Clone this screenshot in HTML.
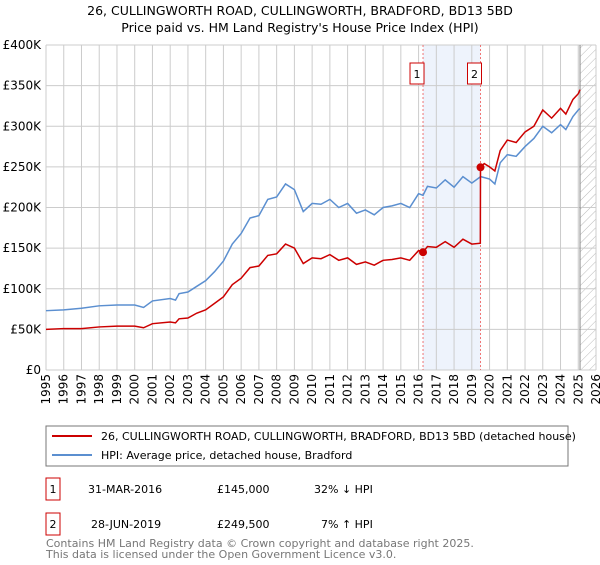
<!DOCTYPE html>
<html><head><meta charset="utf-8"><style>
body{margin:0;background:#fff;font-family:"Liberation Sans","DejaVu Sans",sans-serif;}
svg text{font-family:"DejaVu Sans","Liberation Sans",sans-serif;}
</style></head><body>
<svg width="600" height="560" xmlns="http://www.w3.org/2000/svg">
<text x="300" y="15" text-anchor="middle" font-size="12.5">26, CULLINGWORTH ROAD, CULLINGWORTH, BRADFORD, BD13 5BD</text>
<text x="300" y="32" text-anchor="middle" font-size="12.5">Price paid vs. HM Land Registry's House Price Index (HPI)</text>
<defs><pattern id="hatch" width="6" height="6" patternUnits="userSpaceOnUse" patternTransform="rotate(45)"><line x1="0" y1="0" x2="0" y2="6" stroke="#bbb" stroke-width="1"/></pattern></defs>
<g id="grid"></g><g id="marks"></g><g id="axes"></g>
<rect x="46" y="426" width="522" height="40" fill="#fff" stroke="#777"/>
<line x1="52" y1="436" x2="92" y2="436" stroke="#cc0000" stroke-width="2"/>
<text x="101" y="440" font-size="11">26, CULLINGWORTH ROAD, CULLINGWORTH, BRADFORD, BD13 5BD (detached house)</text>
<line x1="52" y1="455" x2="92" y2="455" stroke="#5b8fd0" stroke-width="2"/>
<text x="101" y="459" font-size="11">HPI: Average price, detached house, Bradford</text>
<g font-size="11">
<rect x="46" y="478" width="14" height="22" fill="#fff" stroke="#cc0000"/><text x="53" y="493" text-anchor="middle">1</text>
<text x="88" y="493">31-MAR-2016</text><text x="217" y="493">£145,000</text><text x="314" y="493">32% ↓ HPI</text>
<rect x="46" y="513" width="14" height="22" fill="#fff" stroke="#cc0000"/><text x="53" y="528" text-anchor="middle">2</text>
<text x="91" y="528">28-JUN-2019</text><text x="217" y="528">£249,500</text><text x="321" y="528">7% ↑ HPI</text>
</g>
<text x="46" y="547" font-size="11" fill="#777">Contains HM Land Registry data © Crown copyright and database right 2025.</text>
<text x="46" y="558" font-size="11" fill="#777">This data is licensed under the Open Government Licence v3.0.</text>
</svg>
<script>
const hpiYears=[1995,1996,1997,1998,1999,2000,2000.5,2001,2002,2002.3,2002.5,2003,2003.5,2004,2004.5,2005,2005.5,2006,2006.5,2007,2007.5,2008,2008.5,2009,2009.5,2010,2010.5,2011,2011.5,2012,2012.5,2013,2013.5,2014,2014.5,2015,2015.5,2016,2016.25,2016.5,2017,2017.5,2018,2018.5,2019,2019.5,2020,2020.3,2020.6,2021,2021.5,2022,2022.5,2023,2023.5,2024,2024.3,2024.7,2025,2025.1];
const hpiValues=[73,74,76,79,80,80,77,85,88,86,94,96,103,110,121,134,155,168,187,190,210,213,229,222,195,205,204,210,200,205,193,197,191,200,202,205,200,217,215,226,224,234,225,238,230,238,235,229,255,265,263,275,285,300,292,302,296,312,320,322];
const priceYears=[1995,1996,1997,1998,1999,2000,2000.5,2001,2002,2002.3,2002.5,2003,2003.5,2004,2004.5,2005,2005.5,2006,2006.5,2007,2007.5,2008,2008.5,2009,2009.5,2010,2010.5,2011,2011.5,2012,2012.5,2013,2013.5,2014,2014.5,2015,2015.5,2016,2016.25,2016.5,2017,2017.5,2018,2018.5,2019,2019.48,2019.49,2019.7,2020,2020.3,2020.6,2021,2021.5,2022,2022.5,2023,2023.5,2024,2024.3,2024.7,2025,2025.1];
const priceValues=[50,51,51,53,54,54,52,57,59,58,63,64,70,74,82,90,105,113,126,128,141,143,155,150,131,138,137,142,135,138,130,133,129,135,136,138,135,147,145,152,151,158,151,161,155,156,249.5,254,250,245,270,283,280,293,300,320,310,322,315,333,340,345];
const saleYears=[2016.25,2019.49];
const saleValues=[145,249.5];
const saleLabels=["1","2"];
const yTicks=[0,50,100,150,200,250,300,350,400];
const yTickLabels=["£0","£50K","£100K","£150K","£200K","£250K","£300K","£350K","£400K"];
const xTicks=[1995,1996,1997,1998,1999,2000,2001,2002,2003,2004,2005,2006,2007,2008,2009,2010,2011,2012,2013,2014,2015,2016,2017,2018,2019,2020,2021,2022,2023,2024,2025,2026];

const NS="http://www.w3.org/2000/svg";
const L=46,R=596,T=45,B=370;
const x=v=>L+(v-1995)/(2026-1995)*(R-L);
const y=v=>B-v/400*(B-T);
function mk(tag,attrs,parent){const e=document.createElementNS(NS,tag);for(const k in attrs)e.setAttribute(k,attrs[k]);document.getElementById(parent).appendChild(e);return e;}
const sh=mk('rect',{x:x(saleYears[0]),y:T,width:x(saleYears[1])-x(saleYears[0]),height:B-T,fill:'#eef3fc'},'grid');


const ht=mk('rect',{x:x(2025.1),y:T,width:R-x(2025.1),height:B-T,fill:'url(#hatch)'},'grid');


xTicks.forEach(t=>{const g=mk('line',{x1:x(t),x2:x(t),y1:T,y2:B,stroke:'#ccc'},'grid');


const lb=mk('text',{x:0,y:0,'text-anchor':'end','font-size':12,transform:'translate('+(x(t)+4)+','+(B+4)+') rotate(-90)'},'axes');lb.textContent=t;

});
yTicks.forEach((t,i)=>{const g=mk('line',{x1:L,x2:R,y1:y(t),y2:y(t),stroke:'#ccc'},'grid');


const lb=mk('text',{x:L-5,y:y(t)+4,'text-anchor':'end','font-size':12},'axes');lb.textContent=yTickLabels[i];

});
const vl=mk('line',{x1:x(2025.1),x2:x(2025.1),y1:T,y2:B,stroke:'#888'},'grid');


saleYears.forEach((s,i)=>{const d=mk('line',{x1:x(s),x2:x(s),y1:T,y2:B,stroke:'#e55','stroke-dasharray':'2,2','stroke-width':0.8},'grid');


const bx=mk('rect',{x:x(s)-13,y:63,width:14,height:21,fill:'#fff',stroke:'#cc0000'},'axes');


const tx=mk('text',{x:x(s)-6,y:78,'text-anchor':'middle','font-size':11},'axes');tx.textContent=saleLabels[i];

});
function line(xs,vs,col,name){const p=mk('polyline',{points:xs.map((t,i)=>x(t)+','+y(vs[i])).join(' '),fill:'none',stroke:col,'stroke-width':1.5},'marks');

}
line(hpiYears,hpiValues,'#5b8fd0','hpi-line');
line(priceYears,priceValues,'#cc0000','property-price-line');
saleYears.forEach((s,i)=>{const c=mk('circle',{cx:x(s),cy:y(saleValues[i]),r:4,fill:'#cc0000'},'marks');

});
</script>
</body></html>
